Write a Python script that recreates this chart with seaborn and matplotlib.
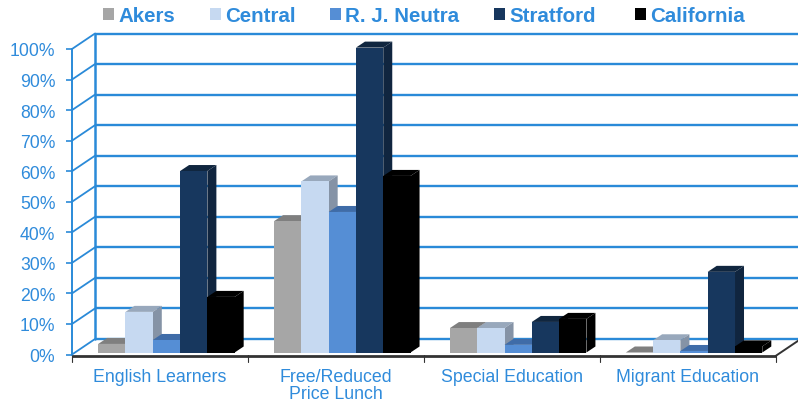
import pandas as pd
import matplotlib
matplotlib.use("Agg")
import matplotlib.pyplot as plt
from matplotlib.patches import Patch, Polygon
import seaborn as sns

# ── Data ──────────────────────────────────────────────────────────────────────
categories = ["English Learners", "Free/Reduced\nPrice Lunch", "Special Education", "Migrant Education"]
schools = ["Akers", "Central", "R. J. Neutra", "Stratford", "California"]
akers = [2.8, 43, 8, 0]
central = [13.3, 56, 8, 4]
neutra = [4.1, 46, 2.5, 0.5]
stratford = [59.4, 99.8, 10, 26.4]
california = [18.2, 57.8, 11, 2]
y_ticks = [0, 10, 20, 30, 40, 50, 60, 70, 80, 90, 100]

# front, top, side
COLORS = {
    "Akers": ("#A6A6A6", "#7F7F7F", "#8C8C8C"),
    "Central": ("#C6D9F1", "#98A8BC", "#8593A6"),
    "R. J. Neutra": ("#558ED5", "#3F6CA8", "#3F6CA8"),
    "Stratford": ("#17375E", "#10263F", "#10253F"),
    "California": ("#000000", "#000000", "#000000"),
}
BLUE = "#2A8AD8"
TEXT = "#2F8BDB"
DARK = "#333333"

W, H = 798, 402
LEGEND_X = [103, 210, 330, 494, 635]  # px, the entries are not evenly spaced

sns.set_style("white")
plt.rcParams["font.family"] = ["Liberation Sans", "DejaVu Sans"]

df = pd.DataFrame({
    "category": categories * 5,
    "school": [s for s in schools for _ in categories],
    "value": akers + central + neutra + stratford + california,
})

fig = plt.figure(figsize=(W / 100, H / 100), dpi=100, facecolor="white")


def plane(dx, dy, z):
    # all planes share one scale, only shifted in pixels (fake 3D depth)
    left, right, bottom, top = 72, 775.5, 355.5, 50
    ax = fig.add_axes([(left + dx) / W, (H - bottom + dy) / H,
                       (right - left) / W, (bottom - top) / H], zorder=z)
    ax.patch.set_alpha(0)
    for s in ax.spines.values():
        s.set_visible(False)
    return ax


PX_X = 703.5 / 4   # px per category
PX_Y = 305.5 / 100  # px per percent

# back wall
wall = plane(23, 15.5, 1)
wall.set_xlim(-0.5, 3.5)
wall.set_ylim(0, 100)
wall.set_xticks([])
wall.set_yticks([])
for v in y_ticks:
    wall.plot([-0.5, 3.5], [v, v], color=BLUE, lw=1.7, clip_on=False, solid_capstyle="butt")
wall.plot([-0.5, -0.5], [0, 100], color=BLUE, lw=1.8, clip_on=False)
wall.plot([3.5, 3.5], [0, 100], color=BLUE, lw=0.9, clip_on=False)

# front axis: ticks, labels, side wall
front = plane(0, 0, 2)
front.set_xlim(-0.5, 3.5)
front.set_ylim(0, 100)
front.set_yticks(y_ticks)
front.set_yticklabels([f"{v}%" for v in y_ticks], fontsize=12.7, color=TEXT)
front.set_xticks(range(4))
front.set_xticklabels(categories, fontsize=12.8, color=TEXT, linespacing=1.03)
front.tick_params(axis="x", length=0, pad=9.5)
front.tick_params(axis="y", length=4, width=1.2, color=BLUE, pad=8, left=True)
for b in [-0.5, 0.5, 1.5, 2.5, 3.5]:
    front.plot([b, b], [-0.3, -2.5], color=DARK, lw=0.8, clip_on=False)
front.plot([-0.5, -0.5], [0, 100], color=BLUE, lw=1.4, clip_on=False)
ddx, ddy = 23 / PX_X, 15.5 / PX_Y
for v in y_ticks:
    front.plot([-0.5, -0.5 + ddx], [v, v + ddy], color=BLUE, lw=1.3, clip_on=False)
front.plot([-0.5, 3.5], [-0.5, -0.5], color=DARK, lw=2, clip_on=False, solid_capstyle="butt")
front.plot([3.5, 3.5 + ddx], [-0.5, -0.5 + ddy], color=DARK, lw=1.4, clip_on=False)

# bars, with drawn top and side faces
bars = plane(6.5, 2, 3)
sns.barplot(data=df, x="category", y="value", hue="school", hue_order=schools, order=categories,
            palette={k: v[0] for k, v in COLORS.items()}, saturation=1, width=0.776, gap=0,
            legend=False, errorbar=None, ax=bars)
bars.set_xlim(-0.5, 3.5)
bars.set_ylim(0, 100)
bars.set_xticks([])
bars.set_yticks([])
bars.set_xlabel("")
bars.set_ylabel("")

bdx, bdy = 9 / PX_X, 6 / PX_Y
rects = list(bars.patches)
for i, rect in enumerate(rects):
    school = schools[i // len(categories)]
    x0, x1 = rect.get_x(), rect.get_x() + rect.get_width()
    h = rect.get_height()
    z = 5 + 2 * schools.index(school)
    rect.set_zorder(z + 1)
    rect.set_linewidth(0)
    bars.add_patch(Polygon([(x0, h), (x1, h), (x1 + bdx, h + bdy), (x0 + bdx, h + bdy)],
                           closed=True, fc=COLORS[school][1], ec="none", zorder=z, clip_on=False))
    bars.add_patch(Polygon([(x1, 0), (x1 + bdx, bdy), (x1 + bdx, h + bdy), (x1, h)],
                           closed=True, fc=COLORS[school][2], ec="none", zorder=z, clip_on=False))

# legend, one entry at a time
for school, lx in zip(schools, LEGEND_X):
    leg = fig.legend(handles=[Patch(fc=COLORS[school][0], ec="none", label=school)],
                     loc="center left", bbox_to_anchor=(lx / W, 1 - 16.5 / H),
                     frameon=False, fontsize=14.8, handlelength=0.55, handleheight=0.55, handletextpad=0.2,
                     borderpad=0, borderaxespad=0)
    for t in leg.get_texts():
        t.set_color(TEXT)
        t.set_fontweight("bold")

fig.savefig("out.png", dpi=100, facecolor="white")
